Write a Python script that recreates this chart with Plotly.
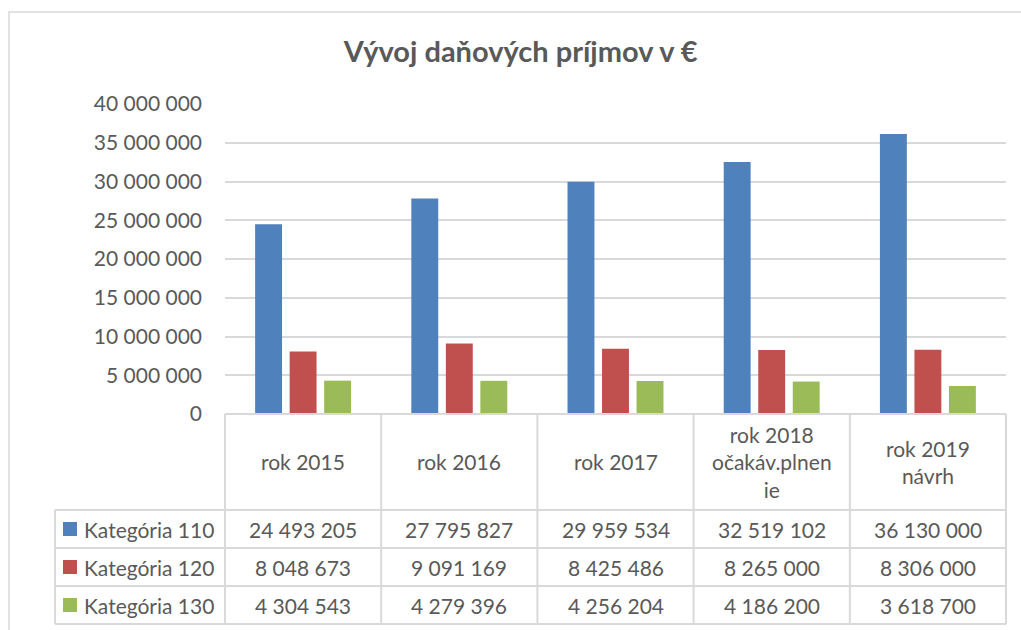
import plotly.graph_objects as go

W, H = 1021, 630

categories = ["rok 2015", "rok 2016", "rok 2017", "rok 2018<br>očakáv.plnen<br>ie", "rok 2019<br>návrh"]
series_names = ["Kategória 110", "Kategória 120", "Kategória 130"]
kat110 = [24493205, 27795827, 29959534, 32519102, 36130000]
kat120 = [8048673, 9091169, 8425486, 8265000, 8306000]
kat130 = [4304543, 4279396, 4256204, 4186200, 3618700]
colors = ["#4F81BD", "#C0504D", "#9BBB59"]
y_ticks = [0, 5000000, 10000000, 15000000, 20000000, 25000000, 30000000, 35000000, 40000000]

series = [kat110, kat120, kat130]
TXT = "#595959"
GRID = "#D9D9D9"
FONT = "Lato"

# plot area pixels
X0, X1 = 225, 1006
Y_TOP, Y_ZERO = 104, 414
HDR_BOTTOM = 510
ROW_H = 38
LEG_X = 55


def px(x):
    return x / W


def py(y):
    return 1 - y / H


fig = go.Figure()
xs = list(range(len(categories)))
for name, vals, c in zip(series_names, series, colors):
    fig.add_trace(go.Bar(x=xs, y=vals, name=name, marker=dict(color=c, line=dict(width=0)),
                         showlegend=False, hoverinfo="y+name"))

fig.update_layout(
    width=W, height=H, autosize=False,
    margin=dict(l=0, r=0, t=0, b=0, pad=0, autoexpand=False),
    paper_bgcolor="white", plot_bgcolor="white",
    showlegend=False,
    barmode="group", bargap=0.337, bargroupgap=0.22,
    separators=", ",
    font=dict(family=FONT, color=TXT, size=21),
    xaxis=dict(domain=[px(X0), px(X1)], range=[-0.5, len(categories) - 0.5], automargin=False,
               showticklabels=False, showgrid=False, zeroline=False, showline=False, fixedrange=True),
    yaxis=dict(domain=[py(Y_ZERO), py(Y_TOP)], range=[0, 40000000], tickvals=y_ticks, automargin=False,
               tickformat=",d", showgrid=True, gridcolor=GRID, gridwidth=1.5,
               zeroline=False, showline=False, ticks="", ticklabelstandoff=22,
               tickfont=dict(family=FONT, size=21, color=TXT), fixedrange=True),
    title=dict(text="<b>Vývoj daňových príjmov v €</b>", x=0.51, xanchor="center", automargin=False,
               y=py(52), yanchor="middle", font=dict(family=FONT, size=29, color=TXT)),
)

shapes = []
# outer chart border
shapes.append(dict(type="rect", xref="paper", yref="paper", x0=px(9), x1=px(1030), y0=py(640), y1=py(12),
                   line=dict(color=GRID, width=1.5), fillcolor="rgba(0,0,0,0)"))

col_w = (X1 - X0) / len(categories)
y_bottom = HDR_BOTTOM + ROW_H * len(series)
# vertical lines of table
for k in range(len(categories) + 1):
    x = X0 + k * col_w
    shapes.append(dict(type="line", xref="paper", yref="paper", x0=px(x), x1=px(x), y0=py(Y_ZERO), y1=py(y_bottom),
                       line=dict(color=GRID, width=2)))
shapes.append(dict(type="line", xref="paper", yref="paper", x0=px(LEG_X), x1=px(LEG_X), y0=py(HDR_BOTTOM), y1=py(y_bottom),
                   line=dict(color=GRID, width=2)))
# horizontal lines
shapes.append(dict(type="line", xref="paper", yref="paper", x0=px(X0), x1=px(X1), y0=py(Y_ZERO), y1=py(Y_ZERO),
                   line=dict(color=GRID, width=2)))
for r in range(len(series) + 1):
    y = HDR_BOTTOM + r * ROW_H
    shapes.append(dict(type="line", xref="paper", yref="paper", x0=px(LEG_X), x1=px(X1), y0=py(y), y1=py(y),
                       line=dict(color=GRID, width=2)))

annotations = []
# header
for k, cat in enumerate(categories):
    cx = X0 + (k + 0.5) * col_w
    annotations.append(dict(text=cat, xref="paper", yref="paper", x=px(cx), y=py((Y_ZERO + HDR_BOTTOM) / 2),
                            xanchor="center", yanchor="middle", showarrow=False,
                            font=dict(family=FONT, size=21, color=TXT)))
# rows
for r, (name, vals, c) in enumerate(zip(series_names, series, colors)):
    cy = HDR_BOTTOM + (r + 0.5) * ROW_H
    shapes.append(dict(type="rect", xref="paper", yref="paper", x0=px(63), x1=px(77), y0=py(cy + 7), y1=py(cy - 7),
                       fillcolor=c, line=dict(width=0)))
    annotations.append(dict(text=name, xref="paper", yref="paper", x=px(82), y=py(cy),
                            xanchor="left", yanchor="middle", showarrow=False,
                            font=dict(family=FONT, size=21, color=TXT)))
    for k, v in enumerate(vals):
        cx = X0 + (k + 0.5) * col_w
        annotations.append(dict(text=f"{v:,}".replace(",", " "), xref="paper", yref="paper", x=px(cx), y=py(cy),
                                xanchor="center", yanchor="middle", showarrow=False,
                                font=dict(family=FONT, size=21, color=TXT)))

fig.update_layout(shapes=shapes, annotations=annotations)
fig.write_html("out.html")
